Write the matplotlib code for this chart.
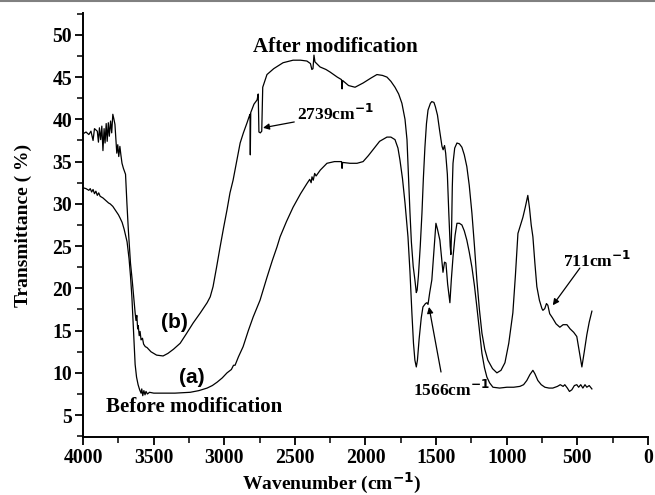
import matplotlib
matplotlib.use("Agg")
import matplotlib.pyplot as plt
from matplotlib.lines import Line2D
from matplotlib.ticker import MultipleLocator

# curve (b): after modification
wn_b = [4000, 3980, 3960, 3945, 3930, 3920, 3900, 3892, 3885, 3876, 3868, 3860, 3852, 3845,
        3837, 3830, 3822, 3815, 3806, 3798, 3790, 3782, 3775, 3768, 3762, 3755, 3748, 3740,
        3733, 3725, 3715, 3700, 3690, 3680, 3665, 3653, 3640, 3632, 3626, 3620, 3614, 3610,
        3603, 3597, 3590, 3580, 3572,
        3560, 3548, 3520, 3480, 3434, 3400, 3360, 3313, 3270, 3221, 3170, 3122, 3100, 3080,
        3055, 3030, 3005, 2981, 2960, 2938, 2910, 2888, 2865, 2839, 2825, 2818, 2816, 2813,
        2790, 2768, 2760, 2755, 2745, 2735, 2728, 2720, 2698, 2650, 2584, 2513, 2460, 2415,
        2390, 2380, 2372, 2365, 2358, 2340, 2322, 2280, 2251, 2200, 2170, 2166, 2162, 2120,
        2074, 2017, 1960, 1919, 1880, 1848, 1820, 1791, 1765, 1742, 1720, 1706, 1695, 1685,
        1675, 1662, 1650, 1640, 1634, 1625, 1612, 1600, 1590, 1579, 1568, 1557, 1540, 1530,
        1515, 1505, 1490, 1475, 1458, 1450, 1440, 1432, 1420, 1410, 1400, 1395, 1390, 1385,
        1380, 1368, 1352, 1335, 1317, 1300, 1282, 1265, 1246, 1228, 1211, 1193, 1175, 1155,
        1133, 1100, 1069, 1040, 1012, 985, 956, 938, 920, 900, 885, 868, 850, 838, 826, 814,
        800, 786, 768, 750, 743, 730, 718, 708, 695, 675, 650, 623, 600, 573, 550, 525, 503,
        485, 467, 450, 432, 415, 396]
t_b = [38.3, 38.5, 38.2, 38.6, 37.5, 38.9, 38.6, 37.3, 39.0, 37.6, 39.2, 36.3, 38.9, 37.2,
       39.5, 37.4, 39.6, 38.0, 39.8, 38.4, 40.6, 40.0, 39.4, 37.6, 36.0, 37.0, 35.6, 36.8,
       35.8, 34.8, 34.2, 33.5, 30.0, 26.9, 23.0, 21.0, 18.5, 17.1, 16.2, 16.8, 15.2, 15.6,
       14.4, 14.9, 13.9, 14.1, 13.4,
       13.1, 13.0, 12.5, 12.1, 12.0, 12.3, 12.8, 13.5, 14.6, 15.9, 17.1, 18.3, 19.0, 20.2,
       22.5, 24.9, 27.2, 29.3, 31.3, 32.8, 35.3, 37.2, 38.4, 39.6, 40.3, 40.6, 35.8, 40.8,
       41.8, 42.3, 43.0, 38.5, 38.4, 38.6, 43.8, 44.2, 45.3, 46.0, 46.7, 47.0, 47.0, 46.9,
       46.6, 45.9, 46.0, 47.6, 46.8, 46.5, 46.2, 45.9, 45.6, 45.0, 44.7, 43.6, 44.6, 44.0,
       43.8, 44.3, 44.9, 45.3, 45.2, 45.0, 44.5, 43.8, 43.0, 41.9, 40.0, 37.6, 33.0, 29.0,
       25.5, 22.6, 21.0, 19.5, 19.8, 21.5, 25.0, 28.9, 33.0, 36.7, 39.5, 41.1, 41.9, 42.1,
       42.0, 41.5, 40.5, 38.7, 36.8, 36.4, 36.9, 36.0, 33.5, 29.0, 25.0, 24.0, 27.0, 32.0,
       34.8, 36.6, 37.2, 37.1, 36.7, 35.8, 34.4, 32.2, 28.9, 25.0, 21.0, 17.5, 14.7, 12.8,
       11.5, 10.5, 10.0, 10.3, 11.2, 13.5, 17.1, 21.5, 26.5, 27.6, 28.4, 29.6, 31.0, 29.5,
       27.5, 26.1, 23.0, 20.2, 18.6, 17.6, 17.4, 17.6, 18.2, 18.0, 17.0, 16.5, 15.8, 15.4,
       15.7, 15.7, 15.2, 14.8, 14.3, 12.5, 10.7, 12.5, 14.5, 16.0, 17.3]

# curve (a): before modification
wn_a = [4000, 3980, 3960, 3950, 3940, 3930, 3920, 3910, 3900, 3890, 3880, 3860, 3840, 3820,
        3809, 3790, 3770, 3750, 3738, 3724, 3710, 3700, 3689, 3675, 3665, 3655, 3648, 3640,
        3632, 3622, 3611, 3600, 3590, 3585, 3578, 3570, 3562, 3555, 3545, 3530, 3500, 3434,
        3350, 3242, 3180, 3122, 3085, 3051, 3015, 2981, 2950, 2935, 2924, 2900, 2867, 2830,
        2796, 2747, 2698, 2660, 2627, 2605, 2560, 2513, 2460, 2415, 2395, 2385, 2379, 2370,
        2360, 2350, 2320, 2273, 2220, 2170, 2166, 2162, 2110, 2060, 2017, 1980, 1947, 1900,
        1848, 1820, 1791, 1770, 1756, 1738, 1720, 1699, 1685, 1671, 1660, 1650, 1640, 1632,
        1620, 1605, 1593, 1575, 1565, 1557, 1545, 1530, 1515, 1501, 1490, 1473, 1460, 1451,
        1440, 1430, 1418, 1402, 1392, 1380, 1365, 1352, 1335, 1317, 1300, 1282, 1265, 1246,
        1228, 1211, 1193, 1175, 1157, 1140, 1120, 1097, 1050, 998, 950, 906, 880, 857, 835,
        814, 800, 779, 755, 729, 700, 673, 640, 620, 600, 588, 570, 555, 538, 520, 503, 490,
        475, 460, 445, 432, 415, 396]
t_a = [31.9, 31.8, 31.6, 31.8, 31.4, 31.7, 31.2, 31.5, 31.0, 31.3, 30.9, 30.7, 30.4, 30.1,
       30.0, 29.7, 29.2, 28.7, 28.3, 27.8, 27.0, 26.3, 25.5, 23.5, 21.5, 19.0, 16.5, 13.5,
       11.0, 9.5, 8.6, 8.0, 7.6, 8.1, 7.3, 7.9, 7.4, 7.8, 7.5, 7.7, 7.6, 7.6,
       7.6, 7.7, 7.9, 8.2, 8.5, 8.9, 9.4, 10.0, 10.4, 10.9, 10.9, 11.9, 13.1, 15.0,
       16.6, 18.6, 21.3, 23.3, 24.9, 26.1, 27.9, 29.6, 31.2, 32.4, 32.9, 32.5, 33.2, 32.8,
       33.6, 33.3, 34.0, 34.8, 35.0, 35.0, 34.2, 34.9, 34.8, 34.8, 35.0, 35.7, 36.4, 37.4,
       37.9, 37.9, 37.6, 36.6, 35.2, 33.0, 30.1, 26.1, 22.0, 17.0, 13.5, 11.5, 10.7, 11.5,
       14.0, 16.5, 17.8, 18.2, 18.3, 18.1, 19.5, 21.0, 24.5, 27.7, 27.0, 25.7, 23.5, 21.9,
       23.1, 23.0, 20.5, 18.3, 21.0, 23.7, 26.3, 27.7, 27.7, 27.5, 26.8, 25.7, 24.3, 22.5,
       20.3, 17.8, 15.0, 12.3, 10.6, 9.5, 8.8, 8.3, 8.2, 8.3, 8.3, 8.4, 8.6, 9.1, 9.8,
       10.3, 9.9, 9.1, 8.6, 8.3, 8.2, 8.2, 8.4, 8.6, 8.4, 8.6, 8.2, 7.8, 8.0, 8.5, 8.6, 8.3,
       8.6, 8.2, 8.6, 8.3, 8.5, 8.1]

x_ticks = [4000, 3500, 3000, 2500, 2000, 1500, 1000, 500, 0]
y_ticks = [5, 10, 15, 20, 25, 30, 35, 40, 45, 50]

serif = "Liberation Serif"

fig = plt.figure(figsize=(6.55, 4.95), dpi=100)
ax = fig.add_axes([0.127, 0.117, 0.862, 0.857])

ax.plot(wn_b, t_b, color="black", lw=0.9)
ax.plot(wn_a, t_a, color="black", lw=0.9)

ax.set_xlim(4000, 0)
ax.set_ylim(2.4, 52.6)
ax.set_xticks(x_ticks)
ax.set_yticks(y_ticks)
ax.xaxis.set_minor_locator(MultipleLocator(250))
ax.yaxis.set_minor_locator(MultipleLocator(2.5))
ax.tick_params(which="major", direction="out", length=6, width=1.3, pad=2)
ax.tick_params(which="minor", direction="out", length=4, width=1.1)
for lab in ax.get_xticklabels() + ax.get_yticklabels():
    lab.set_fontfamily(serif)
    lab.set_fontweight("bold")
    lab.set_fontsize(14.2)

for side in ["top", "right"]:
    ax.spines[side].set_visible(False)
for side in ["left", "bottom"]:
    ax.spines[side].set_linewidth(1.4)

ax.set_xlabel("Wavenumber (cm$^{\\mathbf{-1}}$)", family=serif, fontweight="bold", fontsize=14)
ax.xaxis.set_label_coords(0.44, -0.079)
ax.set_ylabel("Transmittance ( %)", family=serif, fontweight="bold", fontsize=14)
ax.yaxis.set_label_coords(-0.09, 0.5)

txt = dict(family=serif, fontweight="bold", fontsize=15)
ax.text(2216, 48.6, "After modification", ha="center", va="center", **txt)
ax.text(3214, 5.95, "Before modification", ha="center", va="center", **txt)
ax.text(3356, 16.0, "(b)", ha="center", va="center", family="Liberation Sans", fontweight="bold", fontsize=15)
ax.text(3228, 9.5, "(a)", ha="center", va="center", family="Liberation Sans", fontweight="bold", fontsize=15)

small = dict(family=serif, fontweight="bold", fontsize=12.5)
arrow = dict(arrowstyle="-|>", color="black", lw=0.9, mutation_scale=9, shrinkA=0, shrinkB=0)
ax.annotate("2739cm$^{\\mathbf{-1}}$", xy=(2726, 39.0), xytext=(2485, 40.6),
            ha="left", va="center", arrowprops=arrow, **small)
ax.annotate("", xy=(1550, 17.8), xytext=(1465, 10.1), arrowprops=arrow)
ax.text(1664, 8.0, "1566cm$^{\\mathbf{-1}}$", ha="left", va="center", **small)
ax.annotate("", xy=(673, 18.0), xytext=(481, 22.4), arrowprops=arrow)
ax.text(602, 23.2, "711cm$^{\\mathbf{-1}}$", ha="left", va="center", **small)

fig.add_artist(Line2D([0, 1], [0.998, 0.998], color="gray", lw=1.5, transform=fig.transFigure))

fig.savefig("out.png", dpi=100)
